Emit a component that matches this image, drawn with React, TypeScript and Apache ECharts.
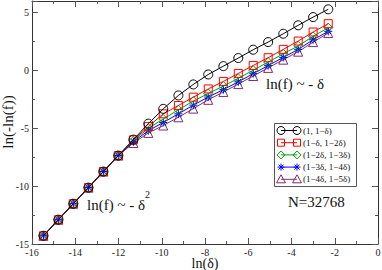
import React, { useEffect, useRef } from "react";
import * as echarts from "echarts";

// ln(delta) values (delta = 0.1 * 2^-n)
const xValues = [-15.47, -14.78, -14.09, -13.39, -12.70, -12.01, -11.31, -10.62, -9.93, -9.23, -8.54, -7.85, -7.15, -6.46, -5.77, -5.08, -4.38, -3.69, -3.00, -2.30];

const seriesNames = ["(1, 1−δ)", "(1−δ, 1−2δ)", "(1−2δ, 1−3δ)", "(1−3δ, 1−4δ)", "(1−4δ, 1−5δ)"];

const s1 = [-14.29, -12.9, -11.52, -10.13, -8.74, -7.36, -5.98, -4.6, -3.32, -2.16, -1.21, -0.35, 0.37, 1.07, 1.79, 2.45, 3.17, 3.9, 4.61, 5.28];
const s2 = [-14.29, -12.9, -11.52, -10.13, -8.74, -7.36, -6.0, -4.85, -3.75, -3.03, -2.31, -1.6, -0.95, -0.26, 0.43, 1.10, 1.82, 2.54, 3.32, 4.04];
const s3 = [-14.29, -12.9, -11.52, -10.13, -8.74, -7.36, -6.08, -5.0, -4.2, -3.4, -2.65, -2.0, -1.35, -0.68, 0.02, 0.72, 1.44, 2.12, 2.94, 3.7];
const s4 = [-14.29, -12.9, -11.52, -10.13, -8.74, -7.36, -6.17, -5.2, -4.5, -3.75, -3.0, -2.3, -1.66, -0.98, -0.28, 0.42, 1.12, 1.82, 2.65, 3.38];
const s5 = [-14.29, -12.9, -11.52, -10.13, -8.74, -7.36, -6.27, -5.4, -4.76, -4.05, -3.3, -2.54, -1.86, -1.18, -0.48, 0.22, 0.93, 1.62, 2.45, 3.23];

const allSeries = [s1, s2, s3, s4, s5];
const colors = ["#000000", "#ff0000", "#00a000", "#0000ff", "#7d2e6e"];
const symbols = [
  "circle",
  "rect",
  "diamond",
  "path://M0,5L10,5M5,0L5,10M1.5,1.5L8.5,8.5M1.5,8.5L8.5,1.5",
  "triangle",
];
const symbolSizes = [9, 8, 9, 8, 9];

const FONT = "'Liberation Serif', 'DejaVu Serif', serif";

function legendSymbol(i: number, cx: number, cy: number, z: number): any[] {
  const stroke = { stroke: colors[i], lineWidth: 1, fill: "rgba(0,0,0,0)" };
  if (i === 0) return [{ type: "circle", z, shape: { cx, cy, r: 4 }, style: stroke }];
  if (i === 1) return [{ type: "rect", z, shape: { x: cx - 3.5, y: cy - 3.5, width: 7, height: 7 }, style: stroke }];
  if (i === 2)
    return [{ type: "polygon", z, shape: { points: [[cx, cy - 4], [cx + 4, cy], [cx, cy + 4], [cx - 4, cy]] }, style: stroke }];
  if (i === 3) {
    const r = 3.5;
    const d = 2.5;
    return [
      { type: "line", z, shape: { x1: cx - r, y1: cy, x2: cx + r, y2: cy }, style: stroke },
      { type: "line", z, shape: { x1: cx, y1: cy - r, x2: cx, y2: cy + r }, style: stroke },
      { type: "line", z, shape: { x1: cx - d, y1: cy - d, x2: cx + d, y2: cy + d }, style: stroke },
      { type: "line", z, shape: { x1: cx - d, y1: cy + d, x2: cx + d, y2: cy - d }, style: stroke },
    ];
  }
  return [{ type: "polygon", z, shape: { points: [[cx, cy - 4.5], [cx + 4.5, cy + 3.5], [cx - 4.5, cy + 3.5]] }, style: stroke }];
}

export default function App() {
  const ref = useRef<HTMLDivElement>(null);
  useEffect(() => {
    if (!ref.current) return;
    const chart = echarts.init(ref.current, null, { renderer: "svg" });
    const axisLine = { show: true, onZero: false, lineStyle: { color: "#333", width: 1 } };
    const tickCommon = { show: true, inside: true, length: 6, lineStyle: { color: "#555" } };
    const minorTick = { show: true, splitNumber: 2, length: 3, lineStyle: { color: "#555" } };
    const labelStyle = { fontFamily: FONT, fontSize: 10, color: "#222" };

    const legendEls: any[] = [
      { type: "rect", shape: { x: 274.5, y: 123.5, width: 82, height: 63 }, style: { fill: "#fff", stroke: "#555", lineWidth: 1 }, z: 100 },
    ];
    seriesNames.forEach((n, i) => {
      const cy = 130.5 + i * 12.2;
      legendEls.push({ type: "line", shape: { x1: 281, y1: cy, x2: 297, y2: cy }, style: { stroke: colors[i], lineWidth: 1 }, z: 101 });
      legendEls.push(...legendSymbol(i, 281, cy, 102));
      legendEls.push(...legendSymbol(i, 297, cy, 102));
      legendEls.push({
        type: "text", x: 303, y: cy, z: 102,
        style: { text: n, fontFamily: FONT, fontSize: 9, fill: "#111", verticalAlign: "middle", align: "left" },
      });
    });

    chart.setOption({
      animation: false,
      backgroundColor: "#fff",
      grid: { left: 32, right: 4, top: 1, bottom: 26, containLabel: false, outerBoundsMode: "none" },
      xAxis: [
        {
          type: "value", min: -16, max: 0, interval: 2,
          axisLine, axisTick: tickCommon, minorTick,
          splitLine: { show: false },
          axisLabel: { ...labelStyle, margin: 3 },
        },
        {
          type: "value", min: -16, max: 0, interval: 2, position: "top",
          axisLine, axisTick: tickCommon, minorTick,
          splitLine: { show: false }, axisLabel: { show: false },
        },
      ],
      yAxis: [
        {
          type: "value", min: -15, max: 6, interval: 5,
          axisLine, axisTick: tickCommon, minorTick,
          splitLine: { show: false },
          axisLabel: { ...labelStyle, margin: 3, showMaxLabel: false },
        },
        {
          type: "value", min: -15, max: 6, interval: 5, position: "right",
          axisLine, axisTick: tickCommon, minorTick,
          splitLine: { show: false }, axisLabel: { show: false },
        },
      ],
      series: allSeries.map((ys, i) => ({
        name: seriesNames[i],
        type: "line",
        data: xValues.map((x, j) => [x, ys[j]]),
        symbol: symbols[i],
        symbolSize: symbolSizes[i],
        showAllSymbol: true,
        lineStyle: { color: colors[i], width: 1 },
        itemStyle: { color: "rgba(0,0,0,0)", borderColor: colors[i], borderWidth: 1 },
        z: 10 - i,
      })),
      graphic: [
        { type: "text", x: 205, y: 263.5, style: { text: "ln(δ)", fontFamily: FONT, fontSize: 14, fill: "#111", align: "center", verticalAlign: "middle" } },
        { type: "text", x: 8, y: 122, rotation: Math.PI / 2, style: { text: "ln(-ln(f))", fontFamily: FONT, fontSize: 15, fill: "#111", align: "center", verticalAlign: "middle" } },
        { type: "text", left: 266, top: 76, style: { text: "ln(f) ~ - δ", fontFamily: FONT, fontSize: 15, fill: "#111" } },
        { type: "text", left: 87, top: 197, style: { text: "ln(f) ~ - δ", fontFamily: FONT, fontSize: 15, fill: "#111" } },
        { type: "text", left: 145, top: 189, style: { text: "2", fontFamily: FONT, fontSize: 10, fill: "#111" } },
        { type: "text", left: 288, top: 194, style: { text: "N=32768", fontFamily: FONT, fontSize: 15, fill: "#111" } },
        ...legendEls,
      ],
    });
    return () => chart.dispose();
  }, []);
  return <div ref={ref} style={{ width: 382, height: 270, position: "absolute", left: 0, top: 0 }} />;
}
